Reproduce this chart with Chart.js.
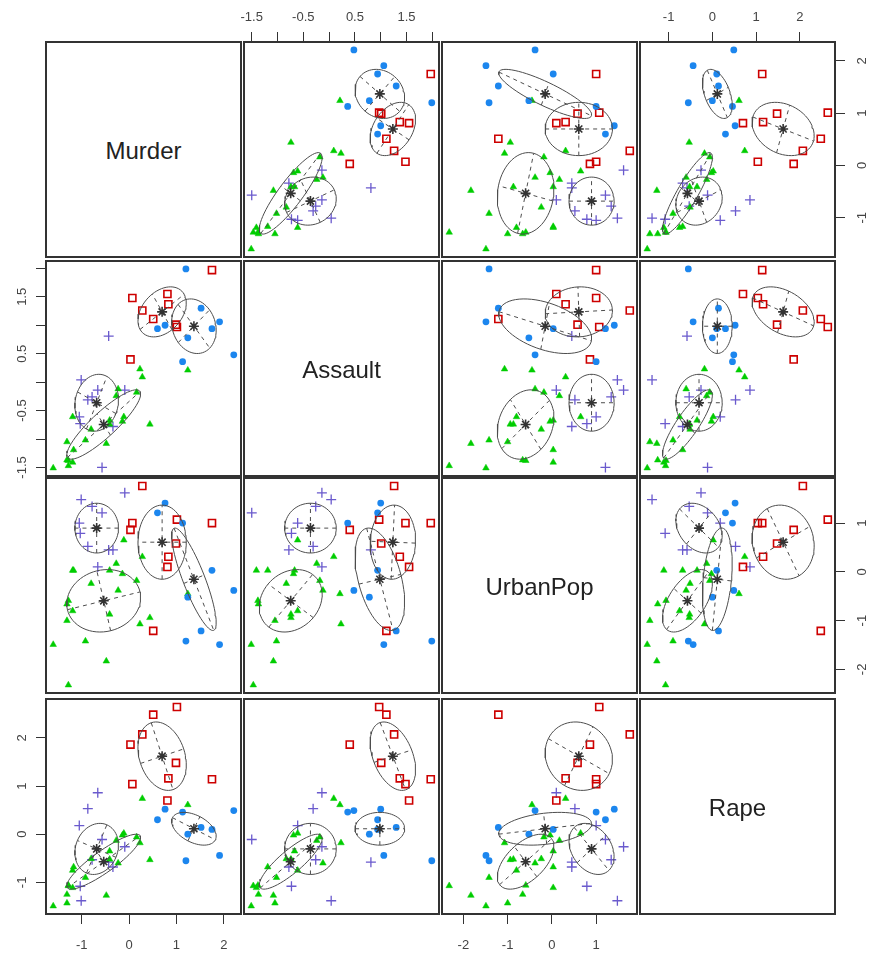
<!DOCTYPE html>
<html>
<head>
<meta charset="utf-8">
<script src="https://cdn.jsdelivr.net/npm/chart.js@4.4.1/dist/chart.umd.min.js"></script>
<style>
  body { margin: 0; background: #fff; width: 875px; height: 958px; position: relative; overflow: hidden; font-family: "Liberation Sans", Arial, sans-serif; }
  canvas { position: absolute; }
  .diag { position: absolute; box-sizing: border-box; border: 2px solid #333; display: flex; align-items: center; justify-content: center; font-size: 24px; color: #222; padding-top: 3px; }
</style>
</head>
<body>
<script>
// scaled USArrests values
const states = ["Alabama","Alaska","Arizona","Arkansas","California","Colorado","Connecticut","Delaware","Florida","Georgia","Hawaii","Idaho","Illinois","Indiana","Iowa","Kansas","Kentucky","Louisiana","Maine","Maryland","Massachusetts","Michigan","Minnesota","Mississippi","Missouri","Montana","Nebraska","Nevada","New Hampshire","New Jersey","New Mexico","New York","North Carolina","North Dakota","Ohio","Oklahoma","Oregon","Pennsylvania","Rhode Island","South Carolina","South Dakota","Tennessee","Texas","Utah","Vermont","Virginia","Washington","West Virginia","Wisconsin","Wyoming"];
const murder = [1.24,0.51,0.07,0.23,0.28,0.03,-1.03,-0.43,1.75,2.21,-0.57,-1.19,0.60,-0.14,-1.28,-0.41,0.44,1.75,-1.31,0.81,-0.78,0.99,-1.17,1.91,0.28,-0.41,-0.80,1.01,-1.31,-0.09,0.83,0.76,1.20,-1.60,-0.11,-0.27,-0.66,-0.34,-1.01,1.52,-0.92,1.24,1.13,-1.05,-1.28,0.16,-0.87,-0.48,-1.19,-0.23];
const assault = [0.78,1.11,1.48,0.23,1.26,0.40,-0.73,0.81,1.97,0.48,-1.50,-0.61,0.94,-0.69,-1.38,-0.67,-0.74,0.94,-1.05,1.55,-0.26,1.01,-1.19,1.06,0.09,-0.74,-0.83,0.97,-1.37,-0.14,1.37,1.00,1.99,-1.51,-0.61,-0.24,-0.14,-0.78,0.04,1.30,-1.02,0.21,0.36,-0.61,-1.47,-0.18,-0.31,-1.08,-1.41,-0.12];
const urbanPop = [-0.52,-1.21,1.00,-1.07,1.76,0.86,0.79,0.45,1.00,-0.38,1.21,-0.80,1.21,-0.04,-0.59,0.03,-0.94,0.03,-1.00,0.10,1.34,0.58,0.03,-1.49,0.31,-0.87,-0.24,1.07,-0.66,1.62,0.31,1.41,-1.42,-1.49,0.65,0.17,0.10,0.45,1.48,-1.21,-1.42,-0.45,1.00,1.00,-2.32,-0.18,0.52,-1.83,0.03,-0.38];
const rape = [0.00,2.48,1.04,-0.18,2.07,1.86,-1.08,-0.58,1.14,0.49,-0.11,-0.75,0.30,-0.02,-1.06,-0.35,-0.53,0.10,-1.43,0.70,-0.53,1.48,-0.68,-0.44,0.74,-0.52,-0.51,2.64,-1.25,-0.26,1.16,0.52,-0.55,-1.49,0.02,-0.13,0.86,-0.68,-1.38,0.14,-0.90,0.61,0.46,0.18,-1.07,-0.06,0.53,-1.27,-1.11,-0.60];
// classification: 1 blue circle, 2 red square, 3 green triangle, 4 slateblue plus
const cluster = [1,2,2,3,2,2,4,4,2,1,4,3,1,3,3,3,3,1,3,2,4,2,3,1,3,3,3,2,3,4,2,1,1,3,3,3,4,4,4,1,3,3,1,4,3,3,4,3,3,3];

// per-class spread of the fitted components, read from the ellipses
// sd order: Murder, Assault, UrbanPop, Rape
const classSd = {
  1: [0.47, 0.48, 1.05, 0.34],
  2: [0.51, 0.44, 0.76, 0.71],
  3: [0.78, 0.61, 0.64, 0.57],
  4: [0.46, 0.50, 0.51, 0.53]
};
// correlation order: M-A, M-U, M-R, A-U, A-R, U-R
const classCorr = {
  1: [-0.15, -0.85, -0.45, -0.45, 0.0, 0.3],
  2: [0.35, 0.0, -0.25, 0.05, -0.4, -0.1],
  3: [0.88, 0.1, 0.88, 0.2, 0.85, 0.55],
  4: [0.1, 0.0, 0.15, 0.0, 0.0, -0.3]
};
const corrPairs = ["0-1", "0-2", "0-3", "1-2", "1-3", "2-3"];

const varNames = ["Murder", "Assault", "UrbanPop", "Rape"];
const tickValues = [
  [-1, 0, 1, 2],
  [-1.5, -1, -0.5, 0, 0.5, 1, 1.5, 2],
  [-2, -1, 0, 1],
  [-1, 0, 1, 2]
];
const tickLabels = [
  ["-1", "0", "1", "2"],
  ["-1.5", "", "-0.5", "", "0.5", "", "1.5", ""],
  ["-2", "-1", "0", "1"],
  ["-1", "0", "1", "2"]
];

const vars = [murder, assault, urbanPop, rape];
const FAMILY = '"Liberation Sans", Arial, sans-serif';
const TICK_SIZE = 13;
const colLeft = [46, 244, 442, 640], colW = 195;
const rowTop = [42, 261, 478, 699], rowH = 215;
const M = 45;

const styles = {
  1: { color: "#1C86EE", pointStyle: "circle", radius: 3.4, fill: true, bw: 0 },
  2: { color: "#CD0000", pointStyle: "rect", radius: 5, fill: false, bw: 1.6 },
  3: { color: "#00CD00", pointStyle: "triangle", radius: 3.8, fill: true, bw: 0.5 },
  4: { color: "#6A5ACD", pointStyle: "cross", radius: 5, fill: false, bw: 1.3 }
};

// R style axis range: data range stretched by 4% each side
function extend(arr) {
  const lo = Math.min(...arr), hi = Math.max(...arr), d = (hi - lo) * 0.04;
  return [lo - d, hi + d];
}
const ranges = vars.map(extend);

const measureCtx = document.createElement("canvas").getContext("2d");
measureCtx.font = TICK_SIZE + "px " + FAMILY;
function widest(labels) {
  return Math.max(...labels.map((l) => measureCtx.measureText(l).width));
}

// 1-sd ellipse of one class in the (xi, yi) plane, with its two axes
function ellipseParts(xi, yi, k) {
  const xs = vars[xi], ys = vars[yi];
  const idx = cluster.map((c, i) => (c === k ? i : -1)).filter((i) => i >= 0);
  const n = idx.length;
  const mx = idx.reduce((s, i) => s + xs[i], 0) / n;
  const my = idx.reduce((s, i) => s + ys[i], 0) / n;
  const sdx = classSd[k][xi], sdy = classSd[k][yi];
  const rho = classCorr[k][corrPairs.indexOf(Math.min(xi, yi) + "-" + Math.max(xi, yi))];
  const sxx = sdx * sdx, syy = sdy * sdy, sxy = rho * sdx * sdy;
  const tr = (sxx + syy) / 2;
  const disc = Math.sqrt(((sxx - syy) / 2) ** 2 + sxy * sxy);
  const a = Math.sqrt(tr + disc), b = Math.sqrt(Math.max(tr - disc, 0));
  const ang = 0.5 * Math.atan2(2 * sxy, sxx - syy);
  const c = Math.cos(ang), s = Math.sin(ang);
  const ring = [];
  for (let t = 0; t <= 64; t++) {
    const th = (t / 64) * 2 * Math.PI;
    const u = a * Math.cos(th), v = b * Math.sin(th);
    ring.push({ x: mx + u * c - v * s, y: my + u * s + v * c });
  }
  return {
    center: { x: mx, y: my },
    ring: ring,
    major: [{ x: mx - a * c, y: my - a * s }, { x: mx + a * c, y: my + a * s }],
    minor: [{ x: mx + b * s, y: my - b * c }, { x: mx - b * s, y: my + b * c }]
  };
}

const boxPlugin = {
  id: "panelBox",
  afterDraw(chart) {
    const { ctx, chartArea: a } = chart;
    ctx.save();
    ctx.strokeStyle = "#333";
    ctx.lineWidth = 2;
    ctx.strokeRect(a.left, a.top, a.right - a.left, a.bottom - a.top);
    ctx.restore();
  }
};

function axisOptions(vi, pos, isX) {
  const show = !!pos;
  const opts = {
    type: "linear",
    display: show,
    position: pos || (isX ? "bottom" : "left"),
    min: ranges[vi][0],
    max: ranges[vi][1],
    afterBuildTicks: (s) => { s.ticks = tickValues[vi].map((v) => ({ value: v })); },
    grid: { drawOnChartArea: false, drawTicks: true, tickLength: 10, color: "#333", lineWidth: 1 },
    border: { display: false },
    ticks: {
      autoSkip: false,
      font: { size: TICK_SIZE, family: FAMILY },
      color: "#444",
      callback: (v, i) => tickLabels[vi][i]
    }
  };
  if (isX) {
    if (show) opts.afterFit = (s) => { s.height = M; };
    opts.ticks.maxRotation = 0;
    opts.ticks.minRotation = 0;
    opts.ticks.padding = pos === "top" ? 7 : 14;
  } else {
    const w = widest(tickLabels[vi]);
    if (show) opts.afterFit = (s) => { s.width = M; };
    opts.ticks.minRotation = 90;
    opts.ticks.maxRotation = 90;
    opts.ticks.crossAlign = "center";
    opts.ticks.padding = pos === "left" ? 14 - w / 2 : 17 - w / 2;
  }
  return opts;
}

function panelChart(r, c) {
  const xs = vars[c], ys = vars[r];
  let xPos = null, yPos = null;
  if (r === 0 && c % 2 === 1) xPos = "top";
  if (r === 3 && c % 2 === 0) xPos = "bottom";
  if (c === 0 && r % 2 === 1) yPos = "left";
  if (c === 3 && r % 2 === 0) yPos = "right";

  const canvas = document.createElement("canvas");
  canvas.width = colW + 2 * M;
  canvas.height = rowH + 2 * M;
  canvas.style.left = colLeft[c] - M + "px";
  canvas.style.top = rowTop[r] - M + "px";
  document.body.appendChild(canvas);

  const datasets = [];
  [1, 2, 3, 4].forEach((k) => {
    const st = styles[k];
    datasets.push({
      data: cluster.map((cl, i) => (cl === k ? { x: xs[i], y: ys[i] } : null)).filter((p) => p),
      pointStyle: st.pointStyle,
      pointRadius: st.radius,
      backgroundColor: st.fill ? st.color : "rgba(0,0,0,0)",
      borderColor: st.color,
      pointBorderWidth: st.bw,
      order: 3
    });
  });
  [1, 2, 3, 4].forEach((k) => {
    const e = ellipseParts(c, r, k);
    const line = { showLine: true, pointRadius: 0, borderColor: "#4d4d4d", borderWidth: 1, fill: false, tension: 0, order: 2 };
    datasets.push(Object.assign({ data: e.ring }, line));
    datasets.push(Object.assign({ data: e.major, borderDash: [4, 4] }, line));
    datasets.push(Object.assign({ data: e.minor, borderDash: [4, 4] }, line));
    datasets.push({
      data: [e.center],
      pointStyle: "star",
      pointRadius: 5,
      borderColor: "#333",
      pointBorderWidth: 1.6,
      order: 1
    });
  });

  new Chart(canvas, {
    type: "scatter",
    data: { datasets: datasets },
    options: {
      responsive: false,
      animation: false,
      devicePixelRatio: 1,
      events: [],
      layout: {
        padding: {
          top: xPos === "top" ? 0 : M,
          bottom: xPos === "bottom" ? 0 : M,
          left: yPos === "left" ? 0 : M,
          right: yPos === "right" ? 0 : M
        }
      },
      plugins: { legend: { display: false }, tooltip: { enabled: false } },
      scales: {
        x: axisOptions(c, xPos, true),
        y: axisOptions(r, yPos, false)
      }
    },
    plugins: [boxPlugin]
  });
}

for (let r = 0; r < 4; r++) {
  for (let c = 0; c < 4; c++) {
    if (r === c) {
      const d = document.createElement("div");
      d.className = "diag";
      d.style.left = colLeft[c] - 1 + "px";
      d.style.top = rowTop[r] - 1 + "px";
      d.style.width = colW + 2 + "px";
      d.style.height = rowH + 2 + "px";
      d.textContent = varNames[r];
      document.body.appendChild(d);
    } else {
      panelChart(r, c);
    }
  }
}
</script>
</body>
</html>
